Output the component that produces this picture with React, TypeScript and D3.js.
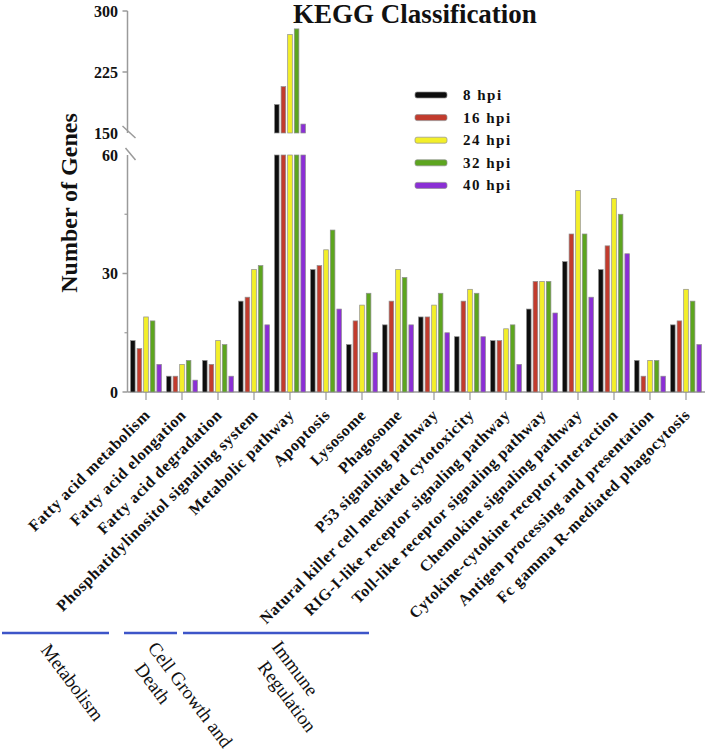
import React from "react";
import * as d3 from "d3";

const categories = [
  "Fatty acid metabolism",
  "Fatty acid elongation",
  "Fatty acid degradation",
  "Phosphatidylinositol signaling system",
  "Metabolic pathway",
  "Apoptosis",
  "Lysosome",
  "Phagosome",
  "P53 signaling pathway",
  "Natural killer cell mediated cytotoxicity",
  "RIG-I-like receptor signaling pathway",
  "Toll-like receptor signaling pathway",
  "Chemokine signaling pathway",
  "Cytokine-cytokine receptor interaction",
  "Antigen processing and presentation",
  "Fc gamma R-mediated phagocytosis",
];

const seriesNames = ["8 hpi", "16 hpi", "24 hpi", "32 hpi", "40 hpi"];

const hpi8 = [13, 4, 8, 23, 185, 31, 12, 17, 19, 14, 13, 21, 33, 31, 8, 17];
const hpi16 = [11, 4, 7, 24, 207, 32, 18, 23, 19, 23, 13, 28, 40, 37, 4, 18];
const hpi24 = [19, 7, 13, 31, 271, 36, 22, 31, 22, 26, 16, 28, 51, 49, 8, 26];
const hpi32 = [18, 8, 12, 32, 278, 41, 25, 29, 25, 25, 17, 28, 40, 45, 8, 23];
const hpi40 = [7, 3, 4, 17, 161, 21, 10, 17, 15, 14, 7, 20, 24, 35, 4, 12];

const seriesValues = [hpi8, hpi16, hpi24, hpi32, hpi40];
const seriesColors = ["#0d0d0d", "#c23b2d", "#f3ef2a", "#5da51f", "#8b2fd5"];

const lowerTicks = [0, 30, 60];
const lowerMinorTicks = [15, 45];
const upperTicks = [150, 225, 300];

const groupNames = [["Metabolism"], ["Cell Growth and", "Death"], ["Immune", "Regulation"]];

// layout of the group annotation (positions only)
const groupLineSpans = [
  [2, 109],
  [124, 177],
  [183, 369],
];
const groupLabelStarts = [
  [[40, 650]],
  [
    [147, 648],
    [134, 669],
  ],
  [
    [271, 647],
    [257, 667],
  ],
];

const FONT = "'Liberation Serif', 'Times New Roman', serif";
const AXIS = "#9a9a9a";

export default function App() {
  const W = 705;
  const H = 752;
  const axisX = 127.5;
  const x0 = d3.scaleBand<string>().domain(categories).range([128, 704]).padding(0);
  const x1 = d3
    .scaleBand<string>()
    .domain(seriesNames)
    .range([2.5, x0.bandwidth() - 2.5])
    .paddingInner(0.3);
  const yLow = d3.scaleLinear().domain([0, 60]).range([392, 155]);
  const yUp = d3.scaleLinear().domain([150, 300]).range([133, 11]);

  const bars: React.ReactNode[] = [];
  categories.forEach((c, ci) => {
    seriesNames.forEach((s, si) => {
      const v = seriesValues[si][ci];
      const bx = (x0(c) as number) + (x1(s) as number);
      const bw = x1.bandwidth();
      const lowTop = yLow(Math.min(v, 60));
      bars.push(
        <rect
          key={`l-${ci}-${si}`}
          x={bx}
          y={lowTop}
          width={bw}
          height={yLow(0) - lowTop}
          fill={seriesColors[si]}
          stroke="#8f8f8f"
          strokeWidth={0.7}
        />
      );
      if (v > 150) {
        const t = yUp(v);
        bars.push(
          <rect
            key={`u-${ci}-${si}`}
            x={bx}
            y={t}
            width={bw}
            height={yUp(150) - t}
            fill={seriesColors[si]}
            stroke="#8f8f8f"
            strokeWidth={0.7}
          />
        );
      }
    });
  });

  return (
    <svg
      width={W}
      height={H}
      style={{ position: "absolute", left: 0, top: 0, background: "#fff" }}
      fontFamily={FONT}
    >
      <rect x={0} y={0} width={W} height={H} fill="#fff" />
      {/* title */}
      <text x={415} y={23} textAnchor="middle" fontSize={27} fontWeight="bold" fill="#111">
        KEGG Classification
      </text>
      {/* y label */}
      <text
        transform={`translate(77,203) rotate(-90)`}
        textAnchor="middle"
        fontSize={24}
        fontWeight="bold"
        fill="#111"
      >
        Number of Genes
      </text>

      {/* y axis upper */}
      <line x1={axisX} x2={axisX} y1={yUp(300)} y2={yUp(150)} stroke={AXIS} strokeWidth={1.5} />
      {upperTicks.map((t) => (
        <g key={`ut-${t}`}>
          {t !== 150 && (
            <line x1={axisX - 5} x2={axisX} y1={yUp(t)} y2={yUp(t)} stroke={AXIS} strokeWidth={1.5} />
          )}
          <text
            x={118}
            y={yUp(t)}
            dy="0.35em"
            textAnchor="end"
            fontSize={16}
            fontWeight="bold"
            fill="#111"
          >
            {t}
          </text>
        </g>
      ))}
      <line x1={axisX - 5} x2={axisX + 8} y1={yUp(150) - 7} y2={yUp(150) + 5} stroke={AXIS} strokeWidth={1.5} />

      {/* y axis lower */}
      <line x1={axisX} x2={axisX} y1={yLow(60)} y2={yLow(0)} stroke={AXIS} strokeWidth={1.5} />
      <line x1={axisX - 2} x2={axisX + 8} y1={yLow(60) - 7} y2={yLow(60) + 5} stroke={AXIS} strokeWidth={1.5} />
      {lowerTicks.map((t) => (
        <g key={`lt-${t}`}>
          {t !== 60 && (
            <line x1={axisX - 5} x2={axisX} y1={yLow(t)} y2={yLow(t)} stroke={AXIS} strokeWidth={1.5} />
          )}
          <text
            x={118}
            y={yLow(t)}
            dy="0.35em"
            textAnchor="end"
            fontSize={16}
            fontWeight="bold"
            fill="#111"
          >
            {t}
          </text>
        </g>
      ))}
      {lowerMinorTicks.map((t) => (
        <line key={`mt-${t}`} x1={axisX - 3} x2={axisX} y1={yLow(t)} y2={yLow(t)} stroke={AXIS} strokeWidth={1.2} />
      ))}

      {/* x axis */}
      <line x1={axisX} x2={W} y1={yLow(0)} y2={yLow(0)} stroke={AXIS} strokeWidth={1.5} />
      {categories.map((c) => {
        const cx = (x0(c) as number) + x0.bandwidth() / 2;
        return (
          <line key={`xt-${c}`} x1={cx} x2={cx} y1={yLow(0)} y2={yLow(0) + 8} stroke={AXIS} strokeWidth={1.2} />
        );
      })}

      {bars}

      {/* category labels */}
      {categories.map((c) => {
        const cx = (x0(c) as number) + x0.bandwidth() / 2;
        return (
          <text
            key={`cl-${c}`}
            transform={`translate(${cx + 5},416) rotate(-45)`}
            textAnchor="end"
            fontSize={16}
            fontWeight="bold"
            letterSpacing={0.6}
            fill="#111"
          >
            {c}
          </text>
        );
      })}

      {/* legend */}
      {seriesNames.map((s, i) => {
        const cy = 95 + i * 22.6;
        return (
          <g key={`lg-${s}`}>
            <rect x={415} y={cy - 3} width={32} height={6} rx={2} fill={seriesColors[i]} stroke="#8f8f8f" strokeWidth={0.7} />
            <text x={463} y={cy + 5} fontSize={15} fontWeight="bold" letterSpacing={1.5} fill="#111">
              {s}
            </text>
          </g>
        );
      })}

      {/* group annotations */}
      {groupNames.map((lines, gi) => (
        <g key={`grp-${gi}`}>
          <line
            x1={groupLineSpans[gi][0]}
            x2={groupLineSpans[gi][1]}
            y1={633}
            y2={633}
            stroke="#3d55c8"
            strokeWidth={2.5}
          />
          {lines.map((ln, li) => (
            <text
              key={`gl-${gi}-${li}`}
              transform={`translate(${groupLabelStarts[gi][li][0]},${groupLabelStarts[gi][li][1]}) rotate(53)`}
              fontSize={19}
              fill="#111"
            >
              {ln}
            </text>
          ))}
        </g>
      ))}
    </svg>
  );
}
